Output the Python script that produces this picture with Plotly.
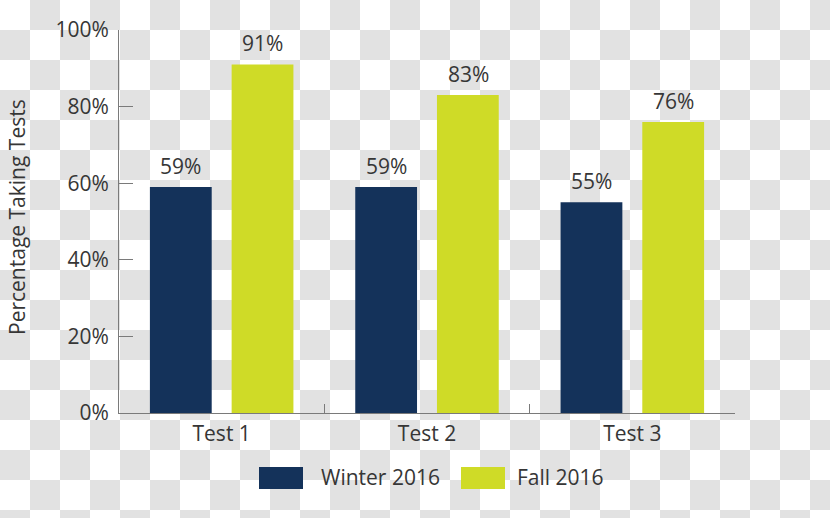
import base64
import plotly.graph_objects as go

categories = ["Test 1", "Test 2", "Test 3"]
series_names = ["Winter 2016", "Fall 2016"]
winter_2016 = [59, 59, 55]
fall_2016 = [91, 83, 76]
y_ticks = [0, 20, 40, 60, 80, 100]
y_tick_labels = ["0%", "20%", "40%", "60%", "80%", "100%"]

colors = ["#14325a", "#cfdb27"]
W, H = 830, 518
FONT = "Open Sans"
TXT = "#363636"
FS = 21

# checkerboard background (transparency pattern)
svg = (
    f'<svg xmlns="http://www.w3.org/2000/svg" width="{W}" height="{H}" viewBox="0 0 {W} {H}" preserveAspectRatio="none">'
    '<defs><pattern id="p" width="60" height="60" patternUnits="userSpaceOnUse">'
    '<rect width="60" height="60" fill="#ffffff"/>'
    '<rect x="30" y="0" width="30" height="30" fill="#e2e2e2"/>'
    '<rect x="0" y="30" width="30" height="30" fill="#e2e2e2"/>'
    '</pattern></defs><rect width="100%" height="100%" fill="url(#p)"/></svg>'
)
bg_src = "data:image/svg+xml;base64," + base64.b64encode(svg.encode()).decode()

fig = go.Figure()
for name, vals, col in zip(series_names, [winter_2016, fall_2016], colors):
    fig.add_trace(go.Bar(x=categories, y=vals, name=name, marker_color=col,
                         marker_line_width=0, showlegend=False))

# value labels above bars
annotations = []
for shift, vals in zip([-41, 41], [winter_2016, fall_2016]):
    for c, v in zip(categories, vals):
        annotations.append(dict(x=c, y=v, xref="x", yref="y", text=f"{v}%",
                                showarrow=False, xshift=shift, yshift=21,
                                yanchor="middle", font=dict(size=FS, color=TXT, family=FONT)))

# y-axis title
annotations.append(dict(x=17 / W, y=1 - 217 / H, xref="paper", yref="paper",
                        xanchor="center", yanchor="middle",
                        text="Percentage Taking Tests", textangle=-90, showarrow=False,
                        font=dict(size=FS, color=TXT, family=FONT)))

# manual legend
shapes = []
leg = [(259, 303, 319), (461, 505, 515)]
for (x0, x1, tx), name, col in zip(leg, series_names, colors):
    shapes.append(dict(type="rect", xref="paper", yref="paper",
                       x0=x0 / W, x1=x1 / W, y0=1 - 489 / H, y1=1 - 467 / H,
                       fillcolor=col, line_width=0))
    annotations.append(dict(x=tx / W, y=1 - 477 / H, xref="paper", yref="paper",
                            text=name, showarrow=False, xanchor="left", yanchor="middle",
                            font=dict(size=FS, color=TXT, family=FONT)))

fig.update_layout(
    template="none",
    width=W, height=H, autosize=False,
    margin=dict(l=0, r=0, t=0, b=0, pad=0, autoexpand=False),
    paper_bgcolor="rgba(0,0,0,0)", plot_bgcolor="rgba(0,0,0,0)",
    barmode="group", bargap=0.204, bargroupgap=0.244,
    font=dict(family=FONT, color=TXT, size=FS),
    images=[dict(source=bg_src, xref="paper", yref="paper", x=0, y=1,
                 sizex=1, sizey=1, sizing="stretch", xanchor="left", yanchor="top",
                 layer="below")],
    annotations=annotations,
    shapes=shapes,
    xaxis=dict(domain=[119 / W, 735 / W], range=[-0.5, 2.5], automargin=False,
               showline=True, linecolor="#7a7a7a", linewidth=1,
               ticks="inside", ticklen=9, tickcolor="#7a7a7a", tickson="boundaries",
               showgrid=False, zeroline=False, ticklabelstandoff=2,
               tickfont=dict(size=FS, color=TXT, family=FONT)),
    yaxis=dict(domain=[1 - 413 / H, 1 - 30 / H], range=[0, 100], automargin=False,
               tickvals=y_ticks, ticktext=y_tick_labels,
               showline=True, linecolor="#7a7a7a", linewidth=1,
               ticks="inside", ticklen=14, tickcolor="#7a7a7a",
               showgrid=False, zeroline=False, ticklabelstandoff=5,
               tickfont=dict(size=FS, color=TXT, family=FONT)),
)

fig.write_html("out.html")
